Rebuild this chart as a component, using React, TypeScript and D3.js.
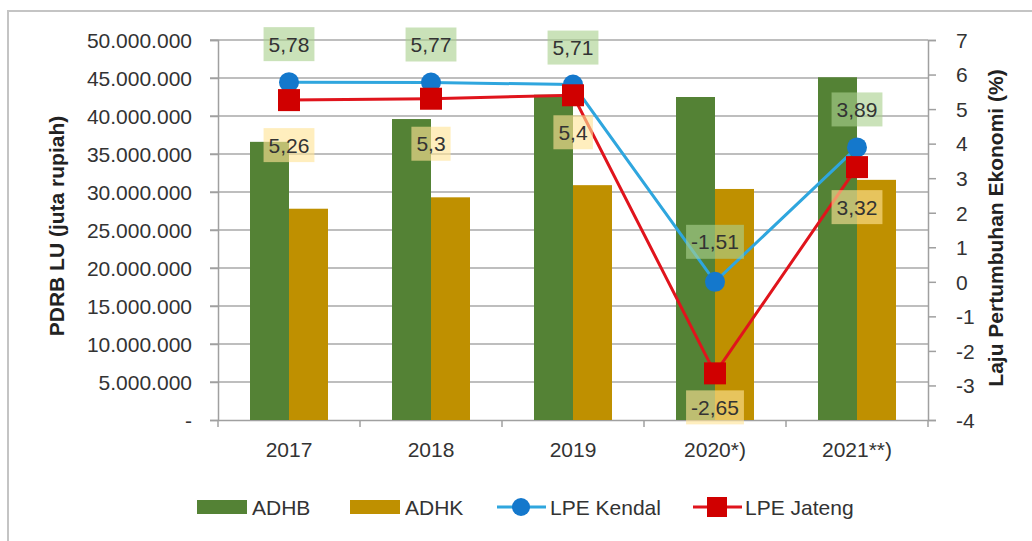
import React, { useEffect, useRef } from "react";
import * as d3 from "d3";

const years = ["2017", "2018", "2019", "2020*)", "2021**)"];
const adhb = [36600000, 39600000, 42800000, 42500000, 45100000];
const adhk = [27800000, 29300000, 30900000, 30400000, 31600000];
// the 2020 Kendal marker sits at 0 in the picture while its label reads -1,51
const lpeKendal = [5.78, 5.77, 5.71, 0, 3.89];
const lpeKendalLabels = ["5,78", "5,77", "5,71", "-1,51", "3,89"];
const lpeJateng = [5.26, 5.3, 5.4, -2.65, 3.32];
const lpeJatengLabels = ["5,26", "5,3", "5,4", "-2,65", "3,32"];
const leftTicks = d3.range(0, 50000001, 5000000);
const rightTicks = d3.range(-4, 8);

const FONT = "'Liberation Sans', Arial, sans-serif";
const GREEN = "#548235";
const GOLD = "#bf9000";
const BLUE_LINE = "#2fa6de";
const BLUE_DOT = "#1478cc";
const RED = "#e0141c";
const RED_DOT = "#d00000";

const App = () => {
    const ref = useRef<SVGSVGElement>(null);

    useEffect(() => {
        const width = 1032, height = 541;
        const svg = d3.select(ref.current)
            .attr("width", width)
            .attr("height", height);
        svg.selectAll("*").remove();

        const left = 218, right = 928, top = 40, bottom = 420;

        // chart frame
        svg.append("rect")
            .attr("x", 8).attr("y", 11)
            .attr("width", 1100).attr("height", 600)
            .attr("fill", "#fff")
            .attr("stroke", "#c4c4c4")
            .attr("stroke-width", 2);

        const x = d3.scaleBand().domain(years).range([left, right]);
        const bw = x.bandwidth();
        const x1 = d3.scaleBand().domain(["ADHB", "ADHK"]).range([bw / 2 - 39, bw / 2 + 39]);
        const yL = d3.scaleLinear().domain([0, 50000000]).range([bottom, top]);
        const yR = d3.scaleLinear().domain([-4, 7]).range([bottom, top]);
        const cx = (i: number) => (x(years[i]) as number) + bw / 2;

        const fmtL = (v: number) => v === 0 ? "-" : d3.format(",")(v).replace(/,/g, ".");

        // grid
        svg.append("g").selectAll("line")
            .data(leftTicks.filter(t => t > 0))
            .enter().append("line")
            .attr("x1", left - 8).attr("x2", right)
            .attr("y1", d => yL(d)).attr("y2", d => yL(d))
            .attr("stroke", "#a8a8a8").attr("stroke-width", 1.5);

        // left axis
        const gl = svg.append("g").attr("transform", `translate(${left},0)`)
            .call(d3.axisLeft(yL).tickValues(leftTicks).tickFormat(d => fmtL(+d)).tickSize(8).tickPadding(18));
        gl.select(".domain").attr("stroke", "#a0a0a0").attr("stroke-width", 1.5);
        gl.selectAll(".tick line").attr("stroke", "#a0a0a0").attr("stroke-width", 1.5);
        gl.selectAll("text").attr("font-family", FONT).attr("font-size", 21).attr("fill", "#333")
            .attr("dy", "0.35em");

        // right axis
        const gr = svg.append("g").attr("transform", `translate(${right},0)`)
            .call(d3.axisRight(yR).tickValues(rightTicks).tickFormat(d => String(d)).tickSize(8).tickPadding(20));
        gr.select(".domain").attr("stroke", "#a0a0a0").attr("stroke-width", 1.5);
        gr.selectAll(".tick line").attr("stroke", "#a0a0a0").attr("stroke-width", 1.5);
        gr.selectAll("text").attr("font-family", FONT).attr("font-size", 21).attr("fill", "#333")
            .attr("dy", "0.35em");

        // bottom axis
        const gb = svg.append("g").attr("transform", `translate(0,${bottom})`)
            .call(d3.axisBottom(x).tickSize(0).tickPadding(22));
        gb.select(".domain").attr("stroke", "#a0a0a0").attr("stroke-width", 1.5);
        gb.selectAll("text").attr("font-family", FONT).attr("font-size", 21).attr("fill", "#333");
        svg.append("g").selectAll("line")
            .data(years.concat(["end"]))
            .enter().append("line")
            .attr("x1", (d, i) => left + i * bw).attr("x2", (d, i) => left + i * bw)
            .attr("y1", bottom).attr("y2", bottom + 7)
            .attr("stroke", "#a0a0a0").attr("stroke-width", 1.5);

        // bars
        const groups = svg.append("g").selectAll("g")
            .data(years)
            .enter().append("g")
            .attr("transform", d => `translate(${x(d)},0)`);
        groups.append("rect")
            .attr("x", x1("ADHB") as number)
            .attr("y", (d, i) => yL(adhb[i]))
            .attr("width", x1.bandwidth())
            .attr("height", (d, i) => bottom - yL(adhb[i]))
            .attr("fill", GREEN);
        groups.append("rect")
            .attr("x", x1("ADHK") as number)
            .attr("y", (d, i) => yL(adhk[i]))
            .attr("width", x1.bandwidth())
            .attr("height", (d, i) => bottom - yL(adhk[i]))
            .attr("fill", GOLD);

        // lines
        const line = d3.line<number>().x((d, i) => cx(i)).y(d => yR(d));
        svg.append("path").datum(lpeKendal).attr("d", line)
            .attr("fill", "none").attr("stroke", BLUE_LINE).attr("stroke-width", 3);
        svg.append("g").selectAll("circle").data(lpeKendal).enter().append("circle")
            .attr("cx", (d, i) => cx(i)).attr("cy", d => yR(d)).attr("r", 10)
            .attr("fill", BLUE_DOT);
        svg.append("path").datum(lpeJateng).attr("d", line)
            .attr("fill", "none").attr("stroke", RED).attr("stroke-width", 3);
        svg.append("g").selectAll("rect").data(lpeJateng).enter().append("rect")
            .attr("x", (d, i) => cx(i) - 11).attr("y", d => yR(d) - 11)
            .attr("width", 22).attr("height", 22)
            .attr("fill", RED_DOT);

        // data labels
        const addLabel = (g: any, px: number, py: number, txt: string, bg: string) => {
            const lg = g.append("g");
            const rect = lg.append("rect");
            const t = lg.append("text")
                .attr("x", px).attr("y", py)
                .attr("text-anchor", "middle").attr("dy", "0.36em")
                .attr("font-family", FONT).attr("font-size", 21).attr("fill", "#333")
                .text(txt);
            const bb = (t.node() as SVGTextElement).getBBox();
            rect.attr("x", bb.x - 5).attr("y", py - 17)
                .attr("width", bb.width + 10).attr("height", 34)
                .attr("fill", bg);
        };
        const labels = svg.append("g");
        const kendalOffset = [-38, -38, -37, -40, -38];
        const jatengOffset = [45, 45, 37, 34, 40];
        lpeKendal.forEach((v, i) => addLabel(labels, cx(i), yR(v) + kendalOffset[i], lpeKendalLabels[i], "rgba(170,208,142,0.62)"));
        lpeJateng.forEach((v, i) => addLabel(labels, cx(i), yR(v) + jatengOffset[i], lpeJatengLabels[i], "rgba(255,228,150,0.62)"));

        // axis titles
        svg.append("text")
            .attr("transform", `translate(64,226) rotate(-90)`)
            .attr("text-anchor", "middle")
            .attr("font-family", FONT).attr("font-size", 21).attr("font-weight", "bold").attr("fill", "#222")
            .text("PDRB LU (juta rupiah)");
        svg.append("text")
            .attr("transform", `translate(1003,228) rotate(-90)`)
            .attr("text-anchor", "middle")
            .attr("font-family", FONT).attr("font-size", 21).attr("font-weight", "bold").attr("fill", "#222")
            .text("Laju Pertumbuhan Ekonomi (%)");

        // legend
        const ly = 507;
        const lgd = svg.append("g").attr("font-family", FONT).attr("font-size", 21).attr("fill", "#333");
        lgd.append("rect").attr("x", 197).attr("y", ly - 7).attr("width", 50).attr("height", 14).attr("fill", GREEN);
        lgd.append("text").attr("x", 252).attr("y", ly).attr("dy", "0.36em").text("ADHB");
        lgd.append("rect").attr("x", 350).attr("y", ly - 7).attr("width", 50).attr("height", 14).attr("fill", GOLD);
        lgd.append("text").attr("x", 405).attr("y", ly).attr("dy", "0.36em").text("ADHK");
        lgd.append("line").attr("x1", 497).attr("x2", 546).attr("y1", ly).attr("y2", ly)
            .attr("stroke", BLUE_LINE).attr("stroke-width", 3);
        lgd.append("circle").attr("cx", 521).attr("cy", ly).attr("r", 9).attr("fill", BLUE_DOT);
        lgd.append("text").attr("x", 550).attr("y", ly).attr("dy", "0.36em").text("LPE Kendal");
        lgd.append("line").attr("x1", 693).attr("x2", 742).attr("y1", ly).attr("y2", ly)
            .attr("stroke", RED).attr("stroke-width", 3);
        lgd.append("rect").attr("x", 707).attr("y", ly - 10).attr("width", 20).attr("height", 20).attr("fill", RED_DOT);
        lgd.append("text").attr("x", 745).attr("y", ly).attr("dy", "0.36em").text("LPE Jateng");
    }, []);

    return (
        <svg ref={ref} style={{ position: "absolute", left: 0, top: 0, display: "block" }}></svg>
    );
};

export default App;
